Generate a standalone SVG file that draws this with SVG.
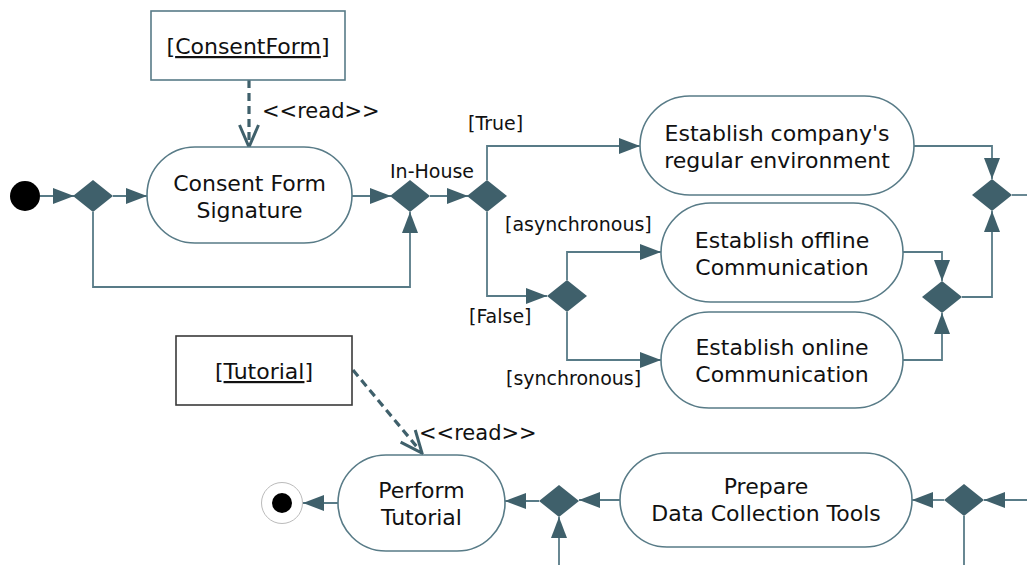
<svg xmlns="http://www.w3.org/2000/svg" width="1027" height="565" viewBox="0 0 1027 565">
<style>
.node{fill:#fff;stroke:#587b87;stroke-width:1.6}
.obj{fill:#fff;stroke:#587b87;stroke-width:1.6}
.obj2{fill:#fff;stroke:#3a3a3a;stroke-width:1.6}
.dia{fill:#3f606b;stroke:none}
.t{font-family:"DejaVu Sans",Verdana,sans-serif;font-size:22px;fill:#111;text-anchor:middle}
.lbl{font-family:"DejaVu Sans",Verdana,sans-serif;font-size:19px;fill:#111}
.rd{font-family:"DejaVu Sans",Verdana,sans-serif;font-size:21px;fill:#111}
.c{fill:none;stroke:#587b87;stroke-width:1.8;marker-end:url(#ah)}
.cn{fill:none;stroke:#587b87;stroke-width:1.8}
.d{fill:none;stroke:#3f606b;stroke-width:3.2;stroke-dasharray:8,5;marker-end:url(#oh)}
</style>
<defs>
<marker id="ah" viewBox="0 0 21 16" refX="21" refY="8" markerWidth="21" markerHeight="16" markerUnits="userSpaceOnUse" orient="auto">
<path d="M0,0 L21,8 L0,16 z" fill="#3f606b"/>
</marker>
<marker id="oh" viewBox="-2 -2 26 23" refX="22" refY="9.5" markerWidth="26" markerHeight="23" markerUnits="userSpaceOnUse" orient="auto">
<path d="M0,0 L22,9.5 L0,19" fill="none" stroke="#3f606b" stroke-width="3"/>
</marker>
</defs>

<g id="connectors">
<path class="c" d="M40,196 H74"/>
<path class="c" d="M113,196 H147"/>
<path class="c" d="M352,196 H391"/>
<path class="c" d="M93,212 V287 H410 V212"/>
<path class="c" d="M430,196 H468"/>
<path class="c" d="M487,180 V146 H640"/>
<path class="c" d="M487,212 V296 H547"/>
<path class="c" d="M567,280 V252 H661"/>
<path class="c" d="M567,312 V360 H661"/>
<path class="c" d="M914,146 H992 V179"/>
<path class="c" d="M903,252 H942 V281"/>
<path class="c" d="M903,360 H942 V313"/>
<path class="c" d="M962,297 H992 V211"/>
<path class="cn" d="M1012,195 H1027"/>
<path class="c" d="M1027,500 H984"/>
<path class="c" d="M944,500 H912"/>
<path class="cn" d="M964,516 V565"/>
<path class="c" d="M620,500 H579"/>
<path class="c" d="M559,565 V517"/>
<path class="c" d="M539,501 H505"/>
<path class="c" d="M338,503 H303"/>
<path class="d" d="M249,80 V147"/>
<path class="d" d="M353,370 L422,453"/>
<text class="rd" x="262" y="118">&lt;&lt;read&gt;&gt;</text>
<text class="rd" x="419" y="440">&lt;&lt;read&gt;&gt;</text>
<text class="lbl" x="390" y="178">In-House</text>
<text class="lbl" x="468" y="130">[True]</text>
<text class="lbl" x="505" y="231">[asynchronous]</text>
<text class="lbl" x="469" y="323">[False]</text>
<text class="lbl" x="506" y="385">[synchronous]</text>
</g>

<g id="initial"><circle cx="25" cy="196" r="15" fill="#000"/></g>
<g id="final"><circle cx="282" cy="503" r="20.5" fill="#fff" stroke="#bbb" stroke-width="1"/><circle cx="282" cy="503" r="10" fill="#000"/></g>

<g id="d1"><path class="dia" d="M73,196 L93,180 L113,196 L93,212 z"/></g>
<g id="d2"><path class="dia" d="M390,196 L410,180 L430,196 L410,212 z"/></g>
<g id="d3"><path class="dia" d="M467,196 L487,180 L507,196 L487,212 z"/></g>
<g id="d4"><path class="dia" d="M547,296 L567,280 L587,296 L567,312 z"/></g>
<g id="d5"><path class="dia" d="M922,297 L942,281 L962,297 L942,313 z"/></g>
<g id="d6"><path class="dia" d="M972,195 L992,179 L1012,195 L992,211 z"/></g>
<g id="d7"><path class="dia" d="M539,501 L559,485 L579,501 L559,517 z"/></g>
<g id="d8"><path class="dia" d="M944,500 L964,484 L984,500 L964,516 z"/></g>

<g id="consentform">
<rect class="obj" x="151" y="11" width="194" height="69"/>
<text class="t" x="248" y="54">[<tspan text-decoration="underline">ConsentForm</tspan>]</text>
</g>
<g id="tutorial">
<rect class="obj2" x="176" y="336" width="176" height="69"/>
<text class="t" x="264" y="379">[<tspan text-decoration="underline">Tutorial</tspan>]</text>
</g>

<g id="consent">
<rect class="node" x="147" y="147" width="205" height="96" rx="48"/>
<text class="t" x="249.5" y="191">Consent Form</text>
<text class="t" x="249.5" y="218">Signature</text>
</g>
<g id="regular">
<rect class="node" x="640" y="96" width="274" height="99" rx="49.5"/>
<text class="t" x="777" y="141">Establish company's</text>
<text class="t" x="777" y="168">regular environment</text>
</g>
<g id="offline">
<rect class="node" x="661" y="203" width="242" height="99" rx="49.5"/>
<text class="t" x="782" y="248">Establish offline</text>
<text class="t" x="782" y="275">Communication</text>
</g>
<g id="online">
<rect class="node" x="661" y="312" width="242" height="96" rx="48"/>
<text class="t" x="782" y="355">Establish online</text>
<text class="t" x="782" y="382">Communication</text>
</g>
<g id="perform">
<rect class="node" x="338" y="455" width="167" height="96" rx="48"/>
<text class="t" x="421.5" y="498">Perform</text>
<text class="t" x="421.5" y="525">Tutorial</text>
</g>
<g id="prepare">
<rect class="node" x="620" y="453" width="292" height="94" rx="47"/>
<text class="t" x="766" y="494">Prepare</text>
<text class="t" x="766" y="521">Data Collection Tools</text>
</g>
</svg>
